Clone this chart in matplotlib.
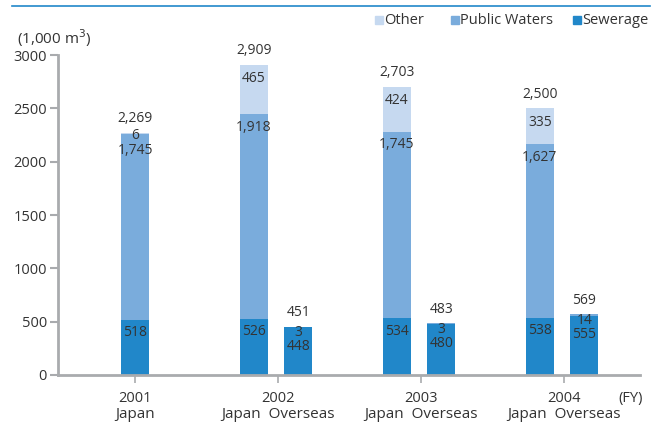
import matplotlib
matplotlib.use("Agg")
import matplotlib.pyplot as plt
from matplotlib.patches import Rectangle
from matplotlib.lines import Line2D

plt.rcParams['font.family'] = ['Open Sans', 'DejaVu Sans']

years = ["2001", "2002", "2003", "2004"]
group_labels = ["Japan", "Japan  Overseas", "Japan  Overseas", "Japan  Overseas"]
bar_labels = ["Japan", "Japan", "Overseas", "Japan", "Overseas", "Japan", "Overseas"]
bar_group = [0, 1, 1, 2, 2, 3, 3]
bar_offset = [0.0, -0.17, 0.14, -0.17, 0.14, -0.17, 0.14]
sewerage = [518, 526, 448, 534, 480, 538, 555]
public_waters = [1745, 1918, 3, 1745, 3, 1627, 14]
other = [6, 465, 0, 424, 0, 335, 0]
totals = [2269, 2909, 451, 2703, 483, 2500, 569]

c_sew = "#2187c9"
c_pub = "#7aacdc"
c_oth = "#c6d9f0"
txt = "#333333"
gray = "#a9abae"

fig = plt.figure(figsize=(6.66, 4.23), dpi=100)
ax = fig.add_axes([58/666, 1-375/423, (640-58)/666, (375-55)/423])

xs = [g + o for g, o in zip(bar_group, bar_offset)]
w = 0.195
ax.bar(xs, sewerage, width=w, color=c_sew, zorder=2)
ax.bar(xs, public_waters, width=w, bottom=sewerage, color=c_pub, zorder=2)
oth_bottom = [s + p for s, p in zip(sewerage, public_waters)]
ax.bar(xs, other, width=w, bottom=oth_bottom, color=c_oth, zorder=2)

fs = 10
def fmt(v):
    return f"{v:,}"

def lab(text, x, y, dy):
    ax.annotate(text, (x, y), xytext=(0, dy), textcoords="offset pixels",
                ha="center", va="center", fontsize=fs, color=txt, annotation_clip=False)

for i, x in enumerate(xs):
    s, p, o, t = sewerage[i], public_waters[i], other[i], totals[i]
    top = s + p + o
    lab(fmt(t), x, top, 14)
    if bar_labels[i] == "Overseas":
        lab(fmt(p), x, top, -6)
        lab(fmt(s), x, top, -20)
    else:
        if o < 100:
            lab(fmt(o), x, top, -3)
            lab(fmt(p), x, top, -18)
        else:
            lab(fmt(o), x, top, -14)
            lab(fmt(p), x, s + p, -13)
        lab(fmt(s), x, s, -13)

ax.set_ylim(0, 3000)
ax.set_xlim(-0.54, 3.53)
ax.set_yticks(range(0, 3001, 500))
ax.tick_params(axis="y", labelsize=10.5, colors=gray, labelcolor=txt, length=6, width=1.5, pad=2)
ax.set_xticks(range(len(years)))
ax.set_xticklabels([])
ax.tick_params(axis="x", colors=gray, length=6, width=1.2, direction="out")
for sp in ["top", "right"]:
    ax.spines[sp].set_visible(False)
for sp in ["left", "bottom"]:
    ax.spines[sp].set_color(gray)
    ax.spines[sp].set_linewidth(2)

# category labels
for g, (y, gl) in enumerate(zip(years, group_labels)):
    ax.annotate(y, (g, 0), xytext=(0, -23), textcoords="offset pixels",
                ha="center", va="center", fontsize=10.5, color=txt, annotation_clip=False)
    ax.annotate(gl, (g, 0), xytext=(0, -39), textcoords="offset pixels",
                ha="center", va="center", fontsize=11, color=txt, annotation_clip=False)
fig.text(631/666, 1-398/423, "(FY)", ha="center", va="center", fontsize=10.5, color=txt)
fig.text(17/666, 1-38/423, "(1,000 m$^3$)", ha="left", va="center", fontsize=11, color=txt)

# top line
fig.add_artist(Line2D([12/666, 650/666], [1-6/423, 1-6/423], color=c_sew, lw=1.2))

# legend
leg = [("Other", c_oth, 375), ("Public Waters", c_pub, 451), ("Sewerage", c_sew, 573)]
for name, col, px in leg:
    fig.add_artist(Rectangle((px/666, 1-24/423), 8/666, 8/423, color=col, transform=fig.transFigure))
    fig.text((px + 9)/666, 1-20/423, name, ha="left", va="center", fontsize=10.5, color=txt)

fig.savefig("out.png", dpi=100)
